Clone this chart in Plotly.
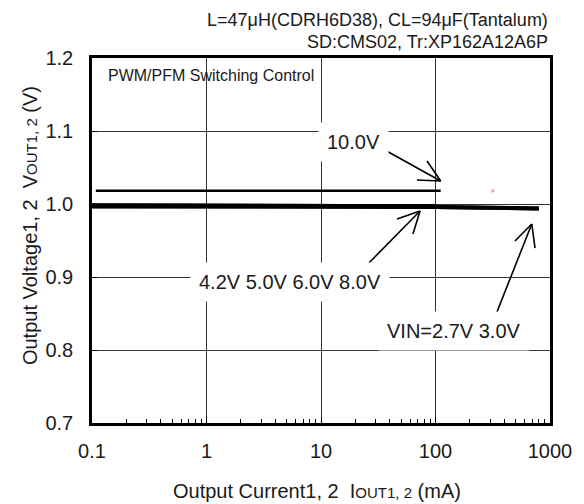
import plotly.graph_objects as go

# Output current (mA) and output voltage (V) per input voltage
current_low_vin = [0.1, 0.3, 1, 3, 10, 30, 100, 300, 800]
vout_vin_2_7 = [0.997, 0.997, 0.997, 0.997, 0.997, 0.996, 0.996, 0.995, 0.994]
vout_vin_3_0 = [0.998, 0.998, 0.998, 0.998, 0.997, 0.997, 0.996, 0.995, 0.994]

current_mid_vin = [0.1, 0.3, 1, 3, 10, 30, 100]
vout_vin_4_2 = [0.998, 0.998, 0.998, 0.998, 0.998, 0.997, 0.997]
vout_vin_5_0 = [0.998, 0.998, 0.998, 0.998, 0.998, 0.998, 0.997]
vout_vin_6_0 = [0.997, 0.997, 0.997, 0.997, 0.997, 0.997, 0.997]
vout_vin_8_0 = [0.997, 0.997, 0.997, 0.997, 0.997, 0.997, 0.997]

current_10v = [0.108, 0.3, 1, 3, 10, 30, 111]
vout_vin_10_0 = [1.018, 1.018, 1.018, 1.018, 1.018, 1.018, 1.018]

stray_current = [316]
stray_vout = [1.018]

x_ticks = [0.1, 1, 10, 100, 1000]
x_ticktext = ["0.1", "1", "10", "100", "1000"]
x_minor = [m * d for d in [0.1, 1, 10, 100] for m in range(2, 10)]

# arrows: (tail current, tail V, tip current, tip V, barb1 current, barb1 V, barb2 current, barb2 V)
arrows = [
    (34.8, 1.0753, 111, 1.0315, 84.3, 1.0589, 68.9, 1.0329),
    (26.2, 0.9192, 73.3, 0.9904, 46.1, 0.9795, 63.5, 0.9589),
    (323, 0.8411, 693, 0.9726, 494, 0.9493, 740, 0.9397),
]

FONT = "Liberation Sans, Arial, sans-serif"

fig = go.Figure()

series = [
    (current_low_vin, vout_vin_2_7, 4),
    (current_low_vin, vout_vin_3_0, 4),
    (current_mid_vin, vout_vin_4_2, 4),
    (current_mid_vin, vout_vin_5_0, 4),
    (current_mid_vin, vout_vin_6_0, 4),
    (current_mid_vin, vout_vin_8_0, 4),
    (current_10v, vout_vin_10_0, 2.5),
]
for xs, ys, w in series:
    fig.add_trace(go.Scatter(x=xs, y=ys, mode="lines",
                             line=dict(color="black", width=w),
                             showlegend=False, hoverinfo="skip"))

fig.add_trace(go.Scatter(x=stray_current, y=stray_vout, mode="markers",
                         marker=dict(color="#f5a3cc", size=3, symbol="square"),
                         showlegend=False, hoverinfo="skip"))

shapes = []
for t_x, t_y, h_x, h_y, b1x, b1y, b2x, b2y in arrows:
    for sx, sy in [(t_x, t_y), (b1x, b1y), (b2x, b2y)]:
        shapes.append(dict(type="line", xref="x", yref="y", x0=sx, y0=sy, x1=h_x, y1=h_y,
                           line=dict(color="black", width=1.6)))

annotations = [
    dict(text="L=47\u03bcH(CDRH6D38), CL=94\u03bcF(Tantalum)", x=1.0, y=1.104,
         xanchor="right", yanchor="middle", font=dict(size=18)),
    dict(text="SD:CMS02, Tr:XP162A12A6P", x=1.0, y=1.044,
         xanchor="right", yanchor="middle", font=dict(size=18)),
    dict(text="PWM/PFM Switching Control", x=0.031, y=0.953,
         xanchor="left", yanchor="middle", font=dict(size=16)),
    dict(text="10.0V", x=0.572, y=0.770, xanchor="center", yanchor="middle",
         font=dict(size=20), bgcolor="white", borderpad=8),
    dict(text="4.2V 5.0V 6.0V 8.0V", x=0.432, y=0.386, xanchor="center", yanchor="middle",
         font=dict(size=20), bgcolor="white", borderpad=8),
    dict(text="VIN=2.7V 3.0V", x=0.790, y=0.252, xanchor="center", yanchor="middle",
         font=dict(size=20), bgcolor="white", borderpad=8),
    dict(text="Output Current1, 2  I<span style='font-size:15px'>OUT1, 2</span> (mA)",
         x=0.491, y=-0.186, xanchor="center", yanchor="middle", font=dict(size=20)),
    dict(text="Output Voltage1, 2  V<span style='font-size:15px'>OUT1, 2</span> (V)",
         x=-0.135, y=0.540, xanchor="center", yanchor="middle", textangle=-90,
         font=dict(size=20)),
]
for a in annotations:
    a.setdefault("xref", "paper")
    a.setdefault("yref", "paper")
    a["showarrow"] = False

fig.update_layout(
    width=584, height=504,
    margin=dict(l=92, r=34, t=58, b=81),
    paper_bgcolor="white", plot_bgcolor="white",
    font=dict(family=FONT, color="#1a1a1a", size=20),
    shapes=shapes,
    annotations=annotations,
)
fig.update_xaxes(
    type="log", range=[-1, 3],
    tickmode="array", tickvals=x_ticks, ticktext=x_ticktext,
    ticks="inside", ticklen=6, tickcolor="black",
    showgrid=True, gridcolor="#333", gridwidth=1,
    showline=True, linecolor="black", linewidth=2.5, mirror=True,
    minor=dict(tickmode="array", tickvals=x_minor, ticks="inside", ticklen=4,
               tickcolor="black", showgrid=False),
    ticklabelstandoff=8,
    zeroline=False,
)
fig.update_yaxes(
    range=[0.7, 1.2], dtick=0.1, tick0=0.7, tickformat=".1f",
    ticks="inside", ticklen=5, tickcolor="black",
    showgrid=True, gridcolor="#333", gridwidth=1,
    showline=True, linecolor="black", linewidth=2.5, mirror=True,
    ticklabelstandoff=12,
    zeroline=False,
)

fig.write_html("out.html", config={"displayModeBar": False},
               post_script="document.body.style.margin='0';")
